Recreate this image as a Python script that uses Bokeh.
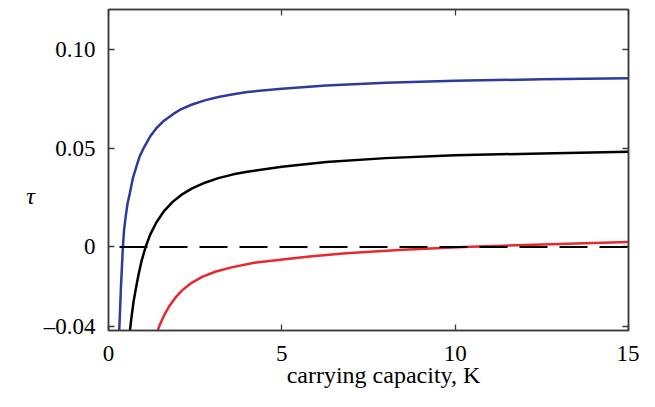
from bokeh.plotting import figure
from bokeh.models import LinearAxis, FixedTicker, Span, Range1d
from bokeh.embed import file_html
from bokeh.resources import INLINE

# ---- data ----
blue_K = [0.31, 0.36, 0.415, 0.45, 0.50, 0.55, 0.62, 0.70, 0.81, 0.90, 1.03, 1.20, 1.38, 1.60,
          1.85, 2.10, 2.41, 2.80, 3.17, 3.60, 4.0, 5.0, 6.28, 8.0, 10.0, 12.5, 15.0]
blue_tau = [-0.042, -0.020, 0.0, 0.0088, 0.0160, 0.0220, 0.0275, 0.0345, 0.0410, 0.0458, 0.0505,
            0.0558, 0.0600, 0.0638, 0.0670, 0.0697, 0.0720, 0.0742, 0.0758, 0.0772, 0.0783,
            0.0800, 0.0816, 0.0830, 0.0840, 0.0847, 0.0852]

black_K = [0.62, 0.66, 0.72, 0.79, 0.86, 0.95, 1.07, 1.20, 1.38, 1.60, 1.85, 2.10, 2.41, 2.80,
           3.17, 3.60, 4.0, 5.0, 6.28, 8.0, 10.0, 12.5, 15.0]
black_tau = [-0.042, -0.036, -0.028, -0.021, -0.0145, -0.0073, 0.0, 0.0061, 0.0124, 0.0181,
             0.0228, 0.0263, 0.0296, 0.0326, 0.0348, 0.0367, 0.0380, 0.0405, 0.0430, 0.0449,
             0.0463, 0.0473, 0.0481]

red_K = [1.42, 1.50, 1.62, 1.75, 1.95, 2.13, 2.40, 2.70, 3.10, 3.55, 4.20, 4.96, 5.80, 6.85, 8.5,
         10.25, 12.5, 15.0]
red_tau = [-0.042, -0.0385, -0.0340, -0.0300, -0.0252, -0.0218, -0.0181, -0.0151, -0.0124,
           -0.0103, -0.0080, -0.0064, -0.0048, -0.0032, -0.0014, 0.0, 0.0013, 0.0025]

x_ticks = [0, 5, 10, 15]
x_tick_labels = ["0", "5", "10", "15"]
y_ticks = [-0.04, 0.0, 0.05, 0.10]
y_tick_labels = ["\u20130.04", "0", "0.05", "0.10"]
reference_level = 0.0

x_label = "carrying capacity, K"
y_label = "\u03c4"

FONT = "Liberation Serif"
FRAME = "#3c3c3c"

p = figure(width=639, height=391, output_backend="svg", toolbar_location=None,
           x_range=Range1d(0, 15), y_range=Range1d(-0.0422, 0.12),
           min_border_left=108, min_border_right=11, min_border_top=9,
           min_border_bottom=61)
p.grid.visible = False
p.outline_line_color = FRAME
p.outline_line_width = 1.5
p.background_fill_color = "white"
p.border_fill_color = "white"


def style_axis(ax, ticks, labels=None, show_labels=True):
    ax.ticker = FixedTicker(ticks=ticks)
    ax.major_tick_in = 6
    ax.major_tick_out = 0
    ax.minor_tick_line_color = None
    ax.major_tick_line_color = FRAME
    ax.major_tick_line_width = 1.3
    ax.axis_line_color = FRAME
    ax.axis_line_width = 1.5
    if show_labels:
        ax.major_label_text_font = FONT
        ax.major_label_text_font_size = "23px"
        ax.major_label_text_color = "black"
        if labels is not None:
            ax.major_label_overrides = {t: l for t, l in zip(ticks, labels)}
    else:
        ax.major_label_text_font_size = "1px"
        ax.major_label_text_color = None
        ax.major_label_standoff = 0


xb = p.xaxis[0]
style_axis(xb, x_ticks, x_tick_labels)
xb.major_label_standoff = 15
xb.axis_label = "\u00a0" * 5 + x_label
xb.axis_label_text_font = FONT
xb.axis_label_text_font_style = "normal"
xb.axis_label_text_font_size = "24px"
xb.axis_label_text_color = "black"
xb.axis_label_standoff = -2

yl = p.yaxis[0]
style_axis(yl, y_ticks, y_tick_labels)
yl.major_label_standoff = 13
yl.axis_label = "\n\n" + y_label
yl.axis_label_orientation = "horizontal"
yl.axis_label_text_font = FONT
yl.axis_label_text_font_style = "italic"
yl.axis_label_text_font_size = "24px"
yl.axis_label_text_line_height = 1.0
yl.axis_label_text_color = "black"
yl.axis_label_standoff = 6

xt = LinearAxis()
style_axis(xt, x_ticks, show_labels=False)
p.add_layout(xt, "above")
yr = LinearAxis()
style_axis(yr, y_ticks, show_labels=False)
p.add_layout(yr, "right")

p.add_layout(Span(location=reference_level, dimension="width", line_color="black",
                  line_width=2, line_dash="28 12", line_dash_offset=29))

p.line(blue_K, blue_tau, line_color="#2f3a9e", line_width=2.5)
p.line(black_K, black_tau, line_color="black", line_width=2.5)
p.line(red_K, red_tau, line_color="#e8282c", line_width=2.5)

open("out.html", "w").write(file_html(p, INLINE))
